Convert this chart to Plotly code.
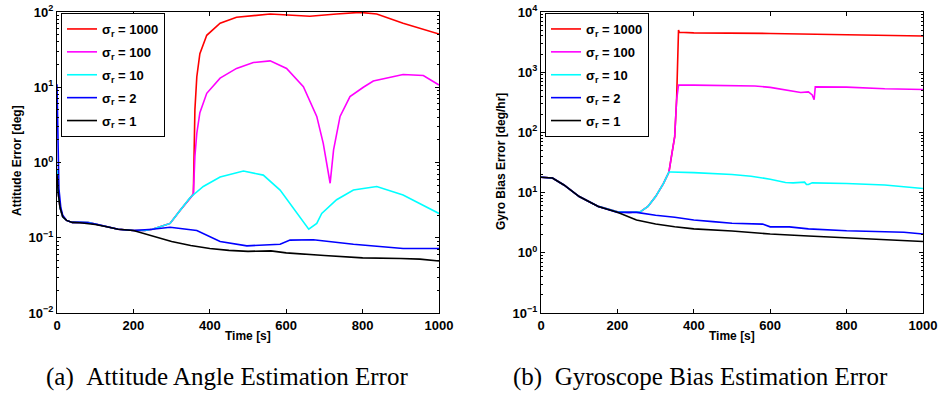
import plotly.graph_objects as go

# ---------------- Data: (a) Attitude angle estimation error [deg] ----------------
a_t_s1 = [0, 3, 8, 15, 25, 40, 60, 80, 100, 130, 160, 200, 250, 300, 350, 400, 450, 500, 560, 600, 700, 800, 900, 950, 1000]
a_v_s1 = [0.7, 0.4, 0.25, 0.19, 0.17, 0.16, 0.158, 0.155, 0.15, 0.14, 0.13, 0.125, 0.105, 0.089, 0.079, 0.072, 0.068, 0.066, 0.067, 0.063, 0.058, 0.054, 0.053, 0.052, 0.049]

a_t_s2 = [0, 2, 5, 10, 15, 25, 40, 60, 80, 100, 130, 160, 200, 250, 296, 366, 427, 497, 584, 610, 671, 776, 906, 1000]
a_v_s2 = [11, 1.5, 0.45, 0.25, 0.2, 0.17, 0.16, 0.16, 0.158, 0.152, 0.14, 0.13, 0.125, 0.13, 0.138, 0.125, 0.089, 0.078, 0.082, 0.093, 0.094, 0.082, 0.072, 0.072]

a_t_s10 = [0, 3, 8, 15, 25, 40, 60, 80, 100, 130, 160, 200, 230, 250, 270, 296, 322, 348, 383, 427, 488, 540, 584, 628, 659, 680, 693, 732, 776, 837, 906, 1000]
a_v_s10 = [0.8, 0.4, 0.25, 0.19, 0.17, 0.16, 0.16, 0.16, 0.152, 0.14, 0.13, 0.125, 0.125, 0.13, 0.14, 0.155, 0.23, 0.34, 0.48, 0.64, 0.77, 0.68, 0.43, 0.21, 0.13, 0.155, 0.21, 0.32, 0.43, 0.48, 0.37, 0.21]

a_t_s100 = [0, 3, 8, 15, 25, 40, 60, 80, 100, 130, 160, 200, 230, 250, 270, 296, 322, 348, 357, 361, 366, 374, 392, 427, 470, 514, 558, 601, 645, 680, 697, 715, 724, 741, 767, 802, 828, 906, 959, 1000]
a_v_s100 = [0.8, 0.4, 0.25, 0.19, 0.17, 0.16, 0.16, 0.16, 0.152, 0.14, 0.13, 0.125, 0.125, 0.13, 0.14, 0.155, 0.23, 0.34, 0.38, 1.2, 2.45, 4.6, 8.3, 13.2, 17.8, 21.3, 22.4, 17.8, 10.2, 4.1, 1.8, 0.53, 1.47, 4.1, 7.5, 10, 12.1, 14.8, 14.3, 10.7]

a_t_s1000 = [0, 3, 8, 15, 25, 40, 60, 80, 100, 130, 160, 200, 230, 250, 270, 296, 322, 348, 357, 361, 366, 374, 392, 427, 470, 558, 662, 732, 793, 837, 906, 1000]
a_v_s1000 = [0.8, 0.4, 0.25, 0.19, 0.17, 0.16, 0.16, 0.16, 0.152, 0.14, 0.13, 0.125, 0.125, 0.13, 0.14, 0.155, 0.23, 0.34, 0.38, 5, 13.8, 28, 49, 71, 85, 94, 88, 94, 99, 94, 71, 51]

# ---------------- Data: (b) Gyro bias estimation error [deg/hr] ----------------
b_t_s1 = [0, 30, 60, 100, 150, 200, 250, 300, 350, 400, 500, 600, 700, 800, 900, 1000]
b_v_s1 = [18, 17.5, 13.4, 8.6, 5.9, 4.7, 3.5, 3.0, 2.7, 2.5, 2.3, 2.05, 1.9, 1.77, 1.67, 1.54]

b_t_s2 = [0, 30, 60, 100, 150, 200, 250, 300, 350, 400, 450, 500, 580, 600, 650, 700, 800, 900, 950, 1000]
b_v_s2 = [18, 17.5, 13.4, 8.6, 5.9, 4.7, 4.7, 4.2, 3.9, 3.5, 3.3, 3.1, 3.0, 2.7, 2.7, 2.5, 2.33, 2.25, 2.2, 2.05]

b_t_s10 = [0, 30, 60, 100, 150, 200, 230, 260, 280, 300, 320, 335, 340, 400, 500, 550, 600, 640, 660, 690, 695, 700, 710, 800, 900, 1000]
b_v_s10 = [18, 17.5, 13.4, 8.6, 5.9, 4.8, 4.7, 4.8, 5.9, 8.6, 14, 22, 22, 21.5, 20, 18.7, 16.7, 14.7, 14.5, 14.9, 13.6, 13.6, 14.5, 14.2, 13.4, 11.7]

b_t_s100 = [0, 30, 60, 100, 150, 200, 230, 260, 280, 300, 320, 335, 340, 350, 355, 360, 400, 500, 560, 600, 650, 680, 700, 710, 715, 718, 800, 850, 900, 1000]
b_v_s100 = [18, 17.5, 13.4, 8.6, 5.9, 4.8, 4.7, 4.8, 5.9, 8.6, 14, 22, 35, 85, 348, 610, 610, 605, 590, 560, 500, 460, 470, 420, 350, 570, 565, 540, 530, 515]

b_t_s1000 = [0, 30, 60, 100, 150, 200, 230, 260, 280, 300, 320, 335, 340, 350, 355, 358, 360, 362, 400, 600, 700, 800, 1000]
b_v_s1000 = [18, 17.5, 13.4, 8.6, 5.9, 4.8, 4.7, 4.8, 5.9, 8.6, 14, 22, 35, 85, 348, 1230, 5000, 4600, 4500, 4400, 4300, 4200, 4000]

series_names = ["σ<sub>r</sub> = 1000", "σ<sub>r</sub> = 100", "σ<sub>r</sub> = 10", "σ<sub>r</sub> = 2", "σ<sub>r</sub> = 1"]
series_colors = ["#ff0000", "#ff00ff", "#00ffff", "#0000ff", "#000000"]

a_series = [(a_t_s1000, a_v_s1000), (a_t_s100, a_v_s100), (a_t_s10, a_v_s10), (a_t_s2, a_v_s2), (a_t_s1, a_v_s1)]
b_series = [(b_t_s1000, b_v_s1000), (b_t_s100, b_v_s100), (b_t_s10, b_v_s10), (b_t_s2, b_v_s2), (b_t_s1, b_v_s1)]

x_ticks = [0, 200, 400, 600, 800, 1000]
a_exps = [-2, -1, 0, 1, 2]
b_exps = [-1, 0, 1, 2, 3, 4]

W, H = 938, 396
FONT = "Liberation Sans, Arial, sans-serif"


def px(x):
    return x / W


def py(y):
    return 1 - y / H


fig = go.Figure()

for i, ((t, v), name, col) in enumerate(zip(a_series, series_names, series_colors)):
    fig.add_trace(go.Scatter(x=t, y=v, mode="lines", name=name, line=dict(color=col, width=1.6),
                             xaxis="x", yaxis="y", legend="legend", legendrank=i, legendgroup="a%d" % i))
for i, ((t, v), name, col) in enumerate(zip(b_series, series_names, series_colors)):
    fig.add_trace(go.Scatter(x=t, y=v, mode="lines", name=name, line=dict(color=col, width=1.6),
                             xaxis="x2", yaxis="y2", legend="legend2", legendrank=i, legendgroup="b%d" % i))


def sup(e):
    s = str(e).replace("-", "−")
    return "10<sup>" + s + "</sup>"


def minor_vals(exps):
    vals = []
    for e in exps[:-1]:
        for m in range(2, 10):
            vals.append(m * 10 ** e)
    return vals


axis_common = dict(showline=True, linecolor="black", linewidth=1, mirror="allticks", ticks="inside",
                   ticklen=4, tickcolor="black", showgrid=False, zeroline=False, automargin=False,
                   ticklabeloverflow="allow",
                   tickfont=dict(family=FONT, size=13, color="black", weight="bold"))

ydom = [py(313), py(12)]

legend_common = dict(xanchor="left", yanchor="top", bgcolor="white", bordercolor="black", borderwidth=1,
                     itemwidth=30, font=dict(family=FONT, size=13, color="black", weight="bold"),
                     tracegroupgap=3)

fig.update_layout(
    width=W, height=H, margin=dict(l=0, r=0, t=0, b=0, autoexpand=False),
    paper_bgcolor="white", plot_bgcolor="white",
    xaxis=dict(domain=[px(57), px(439)], range=[0, 1000], tickvals=x_ticks, anchor="y", **axis_common),
    yaxis=dict(domain=ydom, type="log", range=[-2, 2], tickvals=[10 ** e for e in a_exps],
               ticktext=[sup(e) for e in a_exps], anchor="x",
               minor=dict(tickvals=minor_vals(a_exps), ticks="inside", ticklen=2, tickcolor="black"),
               **axis_common),
    xaxis2=dict(domain=[px(541), px(923)], range=[0, 1000], tickvals=x_ticks, anchor="y2", **axis_common),
    yaxis2=dict(domain=ydom, type="log", range=[-1, 4], tickvals=[10 ** e for e in b_exps],
                ticktext=[sup(e) for e in b_exps], anchor="x2",
                minor=dict(tickvals=minor_vals(b_exps), ticks="inside", ticklen=2, tickcolor="black"),
                **axis_common),
    legend=dict(x=px(61), y=py(13), **legend_common),
    legend2=dict(x=px(545), y=py(13), **legend_common),
    showlegend=True,
)

ann_font = dict(family=FONT, size=12, color="black", weight="bold")
cap_font = dict(family="Liberation Serif, Times New Roman, serif", size=25, color="black")
common_ann = dict(xref="paper", yref="paper", showarrow=False, xanchor="center", yanchor="middle")
annotations = [
    dict(text="Time [s]", x=px(248), y=py(336), font=ann_font, **common_ann),
    dict(text="Time [s]", x=px(732), y=py(336), font=ann_font, **common_ann),
    dict(text="Attitude Error [deg]", x=px(17), y=py(161), textangle=-90, font=ann_font, **common_ann),
    dict(text="Gyro Bias Error [deg/hr]", x=px(501), y=py(162), textangle=-90, font=ann_font, **common_ann),
    dict(text="(a)&nbsp;&nbsp;Attitude Angle Estimation Error", x=px(227), y=py(377), font=cap_font, **common_ann),
    dict(text="(b)&nbsp;&nbsp;Gyroscope Bias Estimation Error", x=px(700), y=py(377), font=cap_font, **common_ann),
]
fig.update_layout(annotations=annotations)

fig.write_html("out.html", config={"displayModeBar": False},
               post_script="document.body.style.margin='0px';document.body.style.overflow='hidden';")
